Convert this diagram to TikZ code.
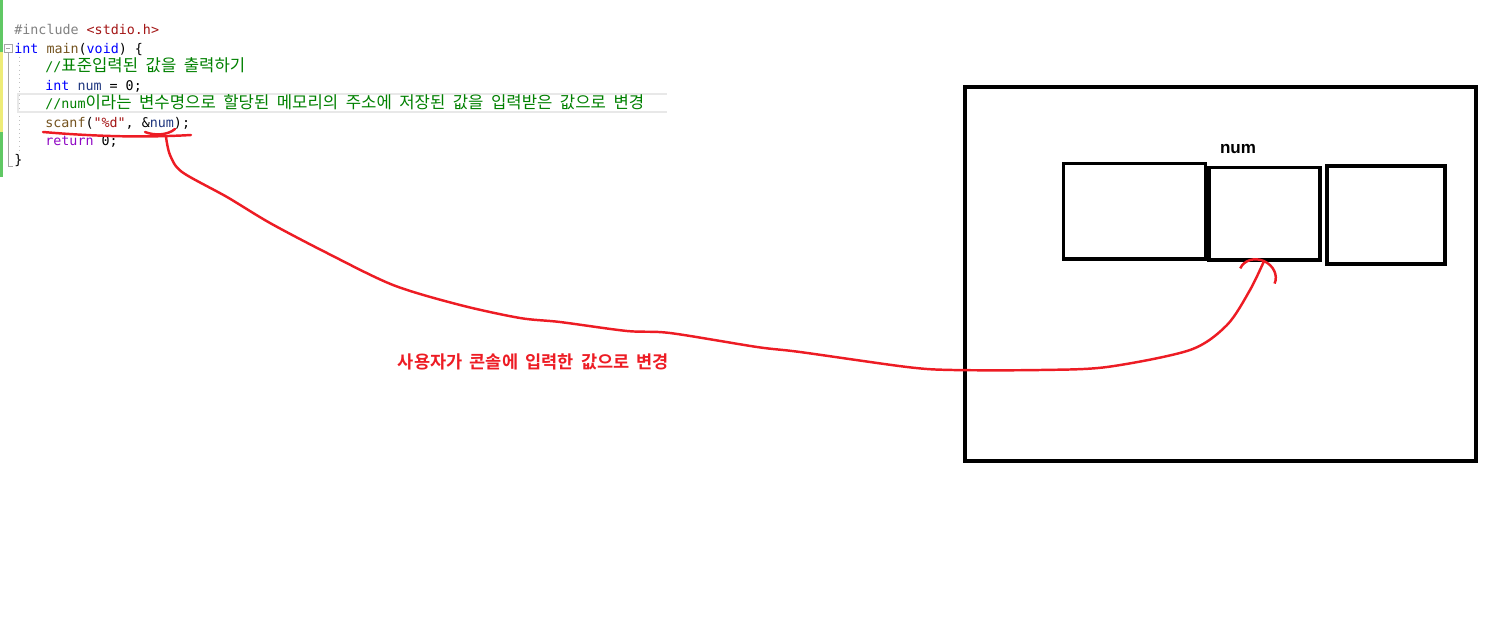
\documentclass[tikz,border=0pt]{standalone}
\usepackage{fontspec}
\setmonofont{DejaVu Sans Mono}
\newfontfamily\krcode{Noto Sans CJK KR}[Scale=1.25, WordSpace=2.0]
\newfontfamily\krlabel{Noto Sans CJK KR Bold}[WordSpace=1.8]
\newfontfamily\memfont{Liberation Sans}
\usepackage{xcolor}
\usepackage{tikz}
\usetikzlibrary{positioning, arrows.meta}

\definecolor{penred}{RGB}{237,28,36}
\definecolor{vsgray}{HTML}{808080}
\definecolor{vsstr}{HTML}{A31515}
\definecolor{vskw}{HTML}{0000FF}
\definecolor{vsfn}{HTML}{74531F}
\definecolor{vsvar}{HTML}{1F377F}
\definecolor{vscmt}{HTML}{008000}
\definecolor{vsret}{HTML}{8F08C4}
\definecolor{vsgreen}{RGB}{96,200,100}
\definecolor{vsyellow}{RGB}{238,236,120}

\newcommand{\codefont}{\ttfamily\fontsize{7.6pt}{9pt}\selectfont}

\begin{document}
\begin{tikzpicture}[x=0.02cm, y=-0.02cm,
    codeline/.style={anchor=base west, inner sep=0pt, font=\codefont},
    cell/.style={draw, line width=2pt, inner sep=0pt, outer sep=0pt},
    pen/.style={draw=penred, line width=1.4pt, line cap=round, line join=round}]
          \useasboundingbox (0,0) rectangle (1490,628);

          % editor margin
          \fill[vsgreen] (0,0) rectangle (3,177);
          \fill[vsyellow] (0,52) rectangle (3,132);
          \draw[vsgray!70, line width=0.4pt] (4,44) rectangle (12,52);
          \draw[vsgray!70, line width=0.4pt] (6,48) -- (10,48);
          \draw[vsgray!70, line width=0.4pt] (8,52) -- (8,166) -- (13,166);
          \draw[vsgray!50, line width=0.4pt, dotted] (19,57) -- (19,150);
          \draw[gray!18, line width=0.6pt] (667,94) -- (18,94) -- (18,112) -- (667,112);

          % code
          \node[codeline] (inc) at (14,35) {\textcolor{vsgray}{\#include} \textcolor{vsstr}{<stdio.h>}};
          \node[codeline] (mainln) at (14,53.5) {\textcolor{vskw}{int} \textcolor{vsfn}{main}(\textcolor{vskw}{void}) \{};
          \node[codeline] (cmt1) at (45,72) {\textcolor{vscmt}{//{\krcode 표준입력된 값을 출력하기}}};
          \node[codeline] (decl) at (45,90.4) {\textcolor{vskw}{int} \textcolor{vsvar}{num} = 0;};
          \node[codeline] (cmt2) at (45,108.8) {\textcolor{vscmt}{//num{\krcode 이라는 변수명으로 할당된 메모리의 주소에 저장된 값을 입력받은 값으로 변경}}};
          \node[codeline] (scanfln) at (45,127.3) {\textcolor{vsfn}{scanf}(\textcolor{vsstr}{"\%d"}, \&\textcolor{vsvar}{num});};
          \node[codeline] (ret) at (45,145.7) {\textcolor{vsret}{return} 0;};
          \node[codeline] (close) at (14,164.2) {\}};

          % marks under scanf
          \draw[pen] (43,132) .. controls (90,136) and (140,138) .. (191,135);
          \draw[pen] (145,132) .. controls (155,136) and (168,135) .. (175,129);
          \coordinate (pick) at (166,137);

          % memory
          \node[cell, line width=2.3pt, minimum width=10.22cm, minimum height=7.48cm] (mem) at (1220.5,274) {};
          \node[cell, minimum width=2.84cm, minimum height=1.91cm] (c1) at (1134.5,211.25) {};
          \node[cell, minimum width=2.22cm, minimum height=1.85cm] (c2) at (1264.5,213.75) {};
          \node[cell, minimum width=2.36cm, minimum height=1.96cm] (c3) at (1386,215) {};
          \node[font={\memfont\bfseries\fontsize{9.7pt}{11pt}\selectfont}] (numlbl) at (1238,149) {num};

          \node[font={\krlabel\fontsize{10pt}{12pt}\selectfont}, text=penred] (msg) at (533.5,362) {사용자가 콘솔에 입력한 값으로 변경};

          \draw[pen, -{Arc Barb[width=0.8cm, length=0.35cm]}] plot[smooth, tension=0.5] coordinates {(pick) (170,155) (182,172) (227,197) (270,223) (327,253) (393,285) (460,305) (520,318) (560,322) (627,331) (670,333) (757,347) (800,352) (907,367) (953,370) (1040,370) (1107,367) (1190,350) (1227,325) (1250,290) (c2.south)};
        \end{tikzpicture}
\end{document}
